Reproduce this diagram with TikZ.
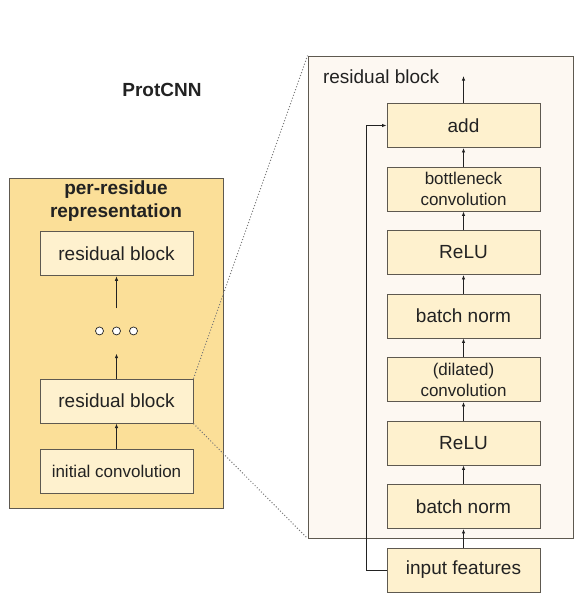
\documentclass[tikz,border=0pt]{standalone}
\usepackage{fontspec}
\setmainfont{Liberation Sans}
\usetikzlibrary{arrows.meta,positioning}
\definecolor{ink}{HTML}{222222}
\definecolor{edge}{HTML}{5E5950}
\definecolor{gold}{HTML}{FBDF98}
\definecolor{cream}{HTML}{FEF1CE}
\definecolor{paper}{HTML}{FDF8F2}
\definecolor{dotline}{HTML}{777777}
\tikzset{
  basebox/.style={draw=edge,fill=cream,line width=0.9pt,align=center,inner sep=2pt,
    font=\fontsize{19}{21}\selectfont,text=ink},
  smallbox/.style={basebox,font=\fontsize{17}{21}\selectfont},
  panel/.style={draw=edge,line width=0.9pt},
  arrow/.style={-{Latex[length=4.5pt,width=3.5pt]},line width=0.8pt,draw=ink},
  zoomline/.style={dotted,line width=1pt,draw=dotline},
  ring/.style={circle,draw=ink,line width=0.7pt,fill=white,inner sep=0pt,minimum size=8pt}
}
\begin{document}
\begin{tikzpicture}[x=1pt,y=-1pt,
    b/.style={basebox,minimum width=153pt,minimum height=44pt},
    bs/.style={smallbox,minimum width=153pt,minimum height=44pt}
  ]
  \useasboundingbox[fill=white] (0,0) rectangle (577,599);
  % panels
  \node[panel,fill=gold,minimum width=214pt,minimum height=330pt] (net) at (116,343) {};
  \node[panel,fill=paper,minimum width=265pt,minimum height=482pt] (blk) at (440.5,297) {};
  \node[font=\bfseries\fontsize{19}{21}\selectfont,text=ink] (title) at (162,90) {ProtCNN};
  \node[font=\bfseries\fontsize{19}{23}\selectfont,text=ink,align=center] (rep) at (116,201) {per-residue\\representation};
  \node[font=\fontsize{19}{21}\selectfont,text=ink,anchor=west] (blkname) at (319.5,77) {residual block};

  % left column
  \node[bs] (init) at (116.5,471) {initial convolution};
  \node[b,above=25pt of init] (rb1) {residual block};
  \node[minimum width=40pt,minimum height=45pt,inner sep=0pt,above=25pt of rb1] (dots) {};
  \foreach \dx in {-17,0,17}
    \node[ring] at ([xshift=\dx pt]dots.center) {};
  \node[b,above=32pt of dots] (rb2) {residual block};
  \draw[arrow] (init) -- (rb1);
  \draw[arrow] (rb1) -- (dots);
  \draw[arrow] (dots) -- (rb2);

  % right column
  \node[b] (input) at (463.5,570) {input features};
  \node[b,above=18.6pt of input] (bn1) {batch norm};
  \node[b,above=18.6pt of bn1] (relu1) {ReLU};
  \node[bs,above=18.6pt of relu1] (conv) {(dilated)\\convolution};
  \node[b,above=18.6pt of conv] (bn2) {batch norm};
  \node[b,above=18.6pt of bn2] (relu2) {ReLU};
  \node[bs,above=18.6pt of relu2] (bneck) {bottleneck\\convolution};
  \node[b,above=18.6pt of bneck] (add) {add};
  \coordinate[above=27pt of add] (out);
  \foreach \a/\c in {input/bn1,bn1/relu1,relu1/conv,conv/bn2,bn2/relu2,relu2/bneck,bneck/add}
    \draw[arrow] (\a) -- (\c);
  \draw[arrow] (add) -- (out);
  \draw[arrow] (input.west) -- ++(-20,0) |- (add.west);

  % zoom lines
  \draw[zoomline] (rb1.north east) -- (blk.north west);
  \draw[zoomline] (rb1.south east) -- (blk.south west);
\end{tikzpicture}
\end{document}
